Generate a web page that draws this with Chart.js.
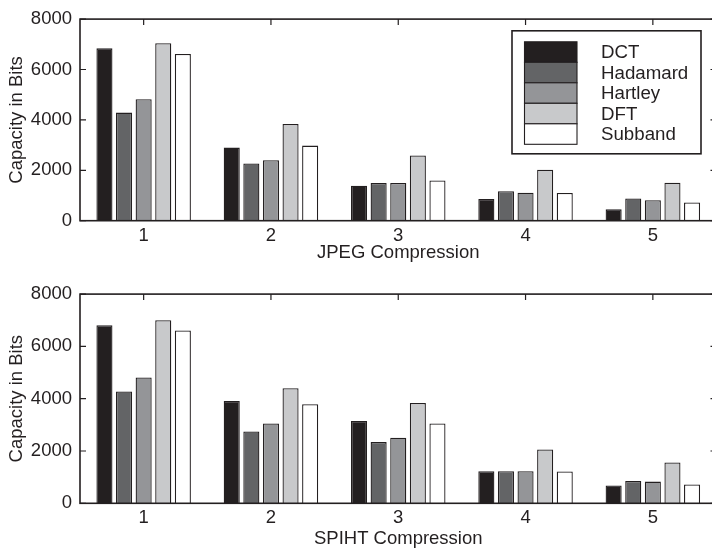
<!DOCTYPE html>
<html>
<head>
<meta charset="utf-8">
<script src="https://cdn.jsdelivr.net/npm/chart.js@4.4.1/dist/chart.umd.min.js"></script>
<style>
  html, body { margin: 0; padding: 0; background: #fff; overflow: hidden; width: 712px; height: 550px; }
  .box { position: absolute; left: 0; width: 720px; height: 275px; }
</style>
</head>
<body>
<div class="box" style="top:0"><canvas id="jpeg" width="720" height="275"></canvas></div>
<div class="box" style="top:275px"><canvas id="spiht" width="720" height="275"></canvas></div>
<script>
const levels = ['1', '2', '3', '4', '5'];
const methods = ['DCT', 'Hadamard', 'Hartley', 'DFT', 'Subband'];
const yTicks = [0, 2000, 4000, 6000, 8000];

// JPEG compression, capacity in bits
const jpegDCT      = [6840, 2900, 1390, 860, 450];
const jpegHadamard = [4290, 2270, 1500, 1170, 880];
const jpegHartley  = [4820, 2400, 1500, 1110, 810];
const jpegDFT      = [7040, 3840, 2590, 2020, 1510];
const jpegSubband  = [6620, 2980, 1600, 1100, 720];

// SPIHT compression, capacity in bits
const spihtDCT      = [6810, 3910, 3150, 1230, 680];
const spihtHadamard = [4280, 2750, 2340, 1230, 850];
const spihtHartley  = [4810, 3050, 2510, 1230, 830];
const spihtDFT      = [7000, 4400, 3840, 2060, 1560];
const spihtSubband  = [6610, 3790, 3050, 1220, 720];

const fills = ['#231f20', '#636466', '#949598', '#c8c9cb', '#ffffff'];
const ink = '#231f20';
const font = 'Liberation Sans, Arial, Helvetica, sans-serif';
const fs = 18.5;

// box round the axes, inward ticks like matlab
const axesBox = {
  id: 'axesBox',
  afterDatasetsDraw(chart) {
    const { ctx, chartArea: a, scales } = chart;
    ctx.save();
    ctx.strokeStyle = ink;
    ctx.lineWidth = 1.2;
    ctx.beginPath();
    scales.x.ticks.forEach((t, i) => {
      const x = scales.x.getPixelForValue(i);
      ctx.moveTo(x, a.top);
      ctx.lineTo(x, a.top + 6);
    });
    yTicks.forEach(v => {
      const y = scales.y.getPixelForValue(v);
      ctx.moveTo(a.left, y);
      ctx.lineTo(a.left + 6, y);
      ctx.moveTo(a.right, y);
      ctx.lineTo(a.right - 6, y);
    });
    ctx.stroke();
    ctx.lineWidth = 1.6;
    ctx.strokeRect(a.left, a.top, a.right - a.left, a.bottom - a.top);
    ctx.restore();
  }
};

// legend inside the upper right corner
const boxLegend = {
  id: 'boxLegend',
  afterDraw(chart, args, opts) {
    if (!opts.show) return;
    const { ctx, chartArea: a } = chart;
    const w = 189, h = 123;
    const x0 = a.right - 15.5 - w, y0 = a.top + 11.7;
    const rowH = 20.5;
    ctx.save();
    ctx.fillStyle = '#fff';
    ctx.fillRect(x0, y0, w, h);
    ctx.lineWidth = 1.6;
    ctx.strokeStyle = ink;
    ctx.strokeRect(x0, y0, w, h);
    ctx.font = '18.7px ' + font;
    ctx.textBaseline = 'middle';
    chart.data.datasets.forEach((ds, i) => {
      const y = y0 + 11 + i * rowH;
      ctx.fillStyle = ds.backgroundColor;
      ctx.fillRect(x0 + 12.5, y, 52.5, rowH);
      ctx.lineWidth = 1.1;
      ctx.strokeRect(x0 + 12.5, y, 52.5, rowH);
      ctx.fillStyle = ink;
      ctx.fillText(ds.label, x0 + 89, y + rowH / 2 + 1);
    });
    ctx.restore();
  }
};

function makeChart(id, series, xTitle, padTop, xHeight, titlePad, withLegend) {
  new Chart(document.getElementById(id), {
    type: 'bar',
    data: {
      labels: levels,
      datasets: methods.map((m, i) => ({
        label: m,
        data: series[i],
        backgroundColor: fills[i],
        borderColor: ink,
        borderWidth: 1.3,
        categoryPercentage: 0.77,
        barPercentage: 0.82
      }))
    },
    options: {
      responsive: false,
      animation: false,
      layout: { padding: { top: padTop, right: 3.5, left: 0, bottom: 0 } },
      plugins: {
        legend: { display: false },
        tooltip: { enabled: false },
        boxLegend: { show: withLegend }
      },
      scales: {
        x: {
          grid: { display: false, drawTicks: false },
          border: { display: false },
          ticks: { color: ink, font: { family: font, size: fs }, padding: 4 },
          title: { display: true, text: xTitle, color: ink, font: { family: font, size: fs }, padding: titlePad },
          afterFit(s) { s.height = xHeight; }
        },
        y: {
          min: 0,
          max: 8000,
          grid: { display: false, drawTicks: false },
          border: { display: false },
          ticks: { stepSize: 2000, color: ink, font: { family: font, size: fs }, padding: 8,
                   callback: v => String(v) },
          title: { display: true, text: 'Capacity in Bits', color: ink, font: { family: font, size: fs }, padding: { top: 6, bottom: 0 } },
          afterFit(s) { s.width = 80; }
        }
      }
    },
    plugins: [axesBox, boxLegend]
  });
}

makeChart('jpeg', [jpegDCT, jpegHadamard, jpegHartley, jpegDFT, jpegSubband],
  'JPEG Compression', 9, 54.3, { top: 0, bottom: 11 }, true);
makeChart('spiht', [spihtDCT, spihtHadamard, spihtHartley, spihtDFT, spihtSubband],
  'SPIHT Compression', 16, 46.7, { top: 0, bottom: 0 }, false);
</script>
</body>
</html>
